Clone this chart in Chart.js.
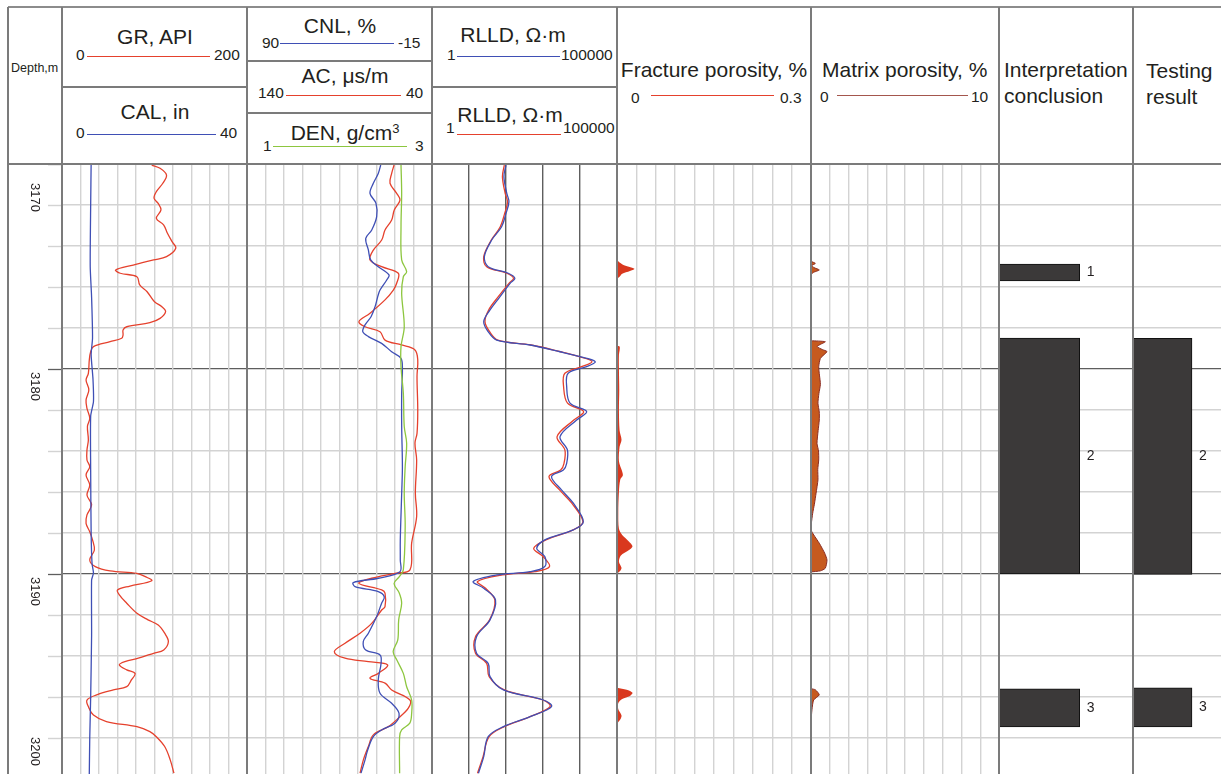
<!DOCTYPE html>
<html>
<head>
<meta charset="utf-8">
<script src="https://cdn.jsdelivr.net/npm/chart.js@4.4.1/dist/chart.umd.min.js"></script>
<style>
body{margin:0;background:#fff;font-family:"Liberation Sans",Arial,sans-serif;color:#231f20}
#page{position:relative;width:1221px;height:774px;overflow:hidden;background:#fff}
.t{position:absolute;font-size:21px;line-height:21px;white-space:nowrap}
.c{text-align:center;width:200px}
.s{position:absolute;font-size:15.5px;line-height:15.5px;white-space:nowrap}
.ln{position:absolute;height:0;border-top:1.5px solid}
.v{position:absolute;top:7px;bottom:0;width:0;border-left:2px solid #7b7b7b;z-index:3}
.h{position:absolute;height:0;border-top:2px solid #7b7b7b;z-index:3}
canvas{position:absolute;top:164px}
</style>
</head>
<body>
<div id="page">
  <!-- header -->
  <div class="h" style="left:8px;top:6px;width:1213px;border-top:2.5px solid #8c8c8c"></div>
  <div class="h" style="left:8px;top:163px;width:1213px"></div>
  <div class="h" style="left:62px;top:86px;width:185px"></div>
  <div class="h" style="left:247px;top:60px;width:185px"></div>
  <div class="h" style="left:247px;top:112px;width:185px"></div>
  <div class="h" style="left:432px;top:86px;width:185px"></div>

  <div class="v" style="left:7px"></div>
  <div class="v" style="left:61px"></div>
  <div class="v" style="left:246px"></div>
  <div class="v" style="left:431px"></div>
  <div class="v" style="left:616px"></div>
  <div class="v" style="left:810px"></div>
  <div class="v" style="left:998px"></div>
  <div class="v" style="left:1132px"></div>

  <div style="position:absolute;left:11px;top:62px;font-size:12.5px;line-height:12.5px">Depth,m</div>

  <div class="t c" style="left:55px;top:26px">GR, API</div>
  <div class="s" style="left:76px;top:47px">0</div>
  <div class="ln" style="left:87px;top:56px;width:123px;border-color:#e5412d"></div>
  <div class="s" style="left:214px;top:47px">200</div>
  <div class="t c" style="left:55px;top:101px">CAL, in</div>
  <div class="s" style="left:76px;top:125px">0</div>
  <div class="ln" style="left:87px;top:134px;width:129px;border-color:#3f4fb5"></div>
  <div class="s" style="left:220px;top:125px">40</div>

  <div class="t c" style="left:240px;top:15px">CNL, %</div>
  <div class="s" style="left:262px;top:35px">90</div>
  <div class="ln" style="left:280px;top:43px;width:114px;border-color:#3f4fb5"></div>
  <div class="s" style="left:398px;top:35px">-15</div>
  <div class="t c" style="left:245px;top:65px">AC, μs/m</div>
  <div class="s" style="left:258px;top:85px">140</div>
  <div class="ln" style="left:286px;top:95px;width:115px;border-color:#e5412d"></div>
  <div class="s" style="left:406px;top:85px">40</div>
  <div class="t c" style="left:245px;top:118px">DEN, g/cm<sup style="font-size:13px;vertical-align:7px">3</sup></div>
  <div class="s" style="left:263px;top:138px">1</div>
  <div class="ln" style="left:273px;top:146px;width:134px;border-color:#8dc63f"></div>
  <div class="s" style="left:415px;top:138px">3</div>

  <div class="t c" style="left:413px;top:24px">RLLD, Ω·m</div>
  <div class="s" style="left:447px;top:47px">1</div>
  <div class="ln" style="left:457px;top:56px;width:103px;border-color:#3f4fb5"></div>
  <div class="s" style="left:561px;top:47px">100000</div>
  <div class="t c" style="left:410px;top:104px">RLLD, Ω·m</div>
  <div class="s" style="left:446px;top:120px">1</div>
  <div class="ln" style="left:457px;top:134px;width:104px;border-color:#e5412d"></div>
  <div class="s" style="left:563px;top:120px">100000</div>

  <div class="t c" style="left:614px;top:59px">Fracture porosity, %</div>
  <div class="s" style="left:631px;top:90px">0</div>
  <div class="ln" style="left:651px;top:95px;width:123px;border-color:#e5412d"></div>
  <div class="s" style="left:780px;top:90px">0.3</div>

  <div class="t" style="left:822px;top:59px">Matrix porosity, %</div>
  <div class="s" style="left:820px;top:89px">0</div>
  <div class="ln" style="left:837px;top:95px;width:131px;border-color:#a4564d"></div>
  <div class="s" style="left:971px;top:89px">10</div>

  <div class="t" style="left:1004px;top:57px;line-height:26px">Interpretation<br>conclusion</div>
  <div class="t" style="left:1146px;top:58px;line-height:26px">Testing<br>result</div>

  <canvas id="cDepth"></canvas>
  <canvas id="cGR"></canvas>
  <canvas id="cCNL"></canvas>
  <canvas id="cRLLD"></canvas>
  <canvas id="cFrac"></canvas>
  <canvas id="cMat"></canvas>
  <canvas id="cInt"></canvas>
  <canvas id="cTest"></canvas>
</div>

<script>
// depth window shown in the picture
const DEPTH_TOP = 3170;
const DEPTH_BOTTOM = 3199.76;
const gridDepths = [3170,3172,3174,3176,3178,3180,3182,3184,3186,3188,3190,3192,3194,3196,3198];
const labelDepths = [3170,3180,3190,3200];

// GR, API
const grDepth = [3170.05,3170.21,3170.54,3170.94,3171.35,3171.67,3171.92,3172.24,3172.65,3172.98,3173.38,3173.79,3174.11,3174.52,3174.68,3174.93,3175.17,3175.33,3175.50,3175.90,3176.23,3176.72,3176.96,3177.20,3177.53,3177.74,3177.94,3178.10,3178.34,3178.50,3178.67,3178.91,3179.16,3179.56,3180.21,3180.54,3181.02,3181.51,3181.92,3182.40,3182.81,3183.46,3183.95,3184.44,3184.77,3185.17,3185.66,3186.15,3186.63,3187.12,3187.53,3187.94,3188.34,3188.83,3189.32,3189.64,3189.85,3189.97,3190.13,3190.33,3190.59,3190.78,3191.02,3191.43,3191.92,3192.24,3192.49,3192.89,3193.30,3193.71,3193.87,3194.11,3194.28,3194.44,3194.68,3194.85,3195.17,3195.50,3195.66,3195.90,3196.15,3196.47,3196.88,3197.20,3197.45,3197.69,3197.94,3198.42,3199.07,3199.72];
const grVal = [97,106,113,109,102,99.5,104,107,102,110,114,119,123,113,99,77,58,63,81,84,92,100,108,112,106,95,70,66,66,64.5,52,34,31,29.5,28.5,26,29,26,27,30,27.5,28.5,27,27,30,26,30,27,32,27,26,30,33,35,30,36,52,81,90,97,73.5,60,62,70,81,93,104,111,115,110,99,82.5,68,62,70,79,75,70,55.5,37.5,27,28.5,34,48,81,95,102,111,117,121];

// CAL, in
const calDepth = [3170.0,3172.0,3175.0,3176.5,3178.5,3179.3,3180.5,3181.6,3182.3,3185.0,3188.0,3189.5,3189.95,3190.3,3193.0,3196.0,3198.0,3199.8];
const calVal = [6.3,6.2,6.1,6.4,6.6,6.3,6.7,6.8,6.2,6.2,6.3,6.5,6.8,6.4,6.4,6.2,6.0,5.9];

// CNL, %
const cnlDepth = [3170.05,3170.46,3170.94,3171.43,3171.92,3172.57,3173.22,3173.63,3174.20,3174.68,3175.01,3175.41,3175.66,3176.15,3176.47,3176.96,3177.45,3177.85,3178.18,3178.42,3178.75,3179.16,3179.48,3180.05,3181.19,3182.81,3184.77,3186.06,3188.34,3189.32,3189.89,3190.21,3190.42,3190.62,3190.86,3191.11,3191.43,3192.08,3192.89,3193.30,3193.71,3193.95,3194.36,3195.17,3195.82,3196.31,3196.80,3197.28,3197.61,3197.94,3198.59,3199.07,3199.72];
const cnlVal = [14.1,15.5,18.3,20.2,16.8,16.4,19.2,22.6,21.1,19.8,15.5,9.4,10.7,14.5,15.8,17.3,19.6,23.0,24.3,21.1,13.6,7.9,2.6,1.8,2.2,2.2,1.8,2.2,3.0,3.0,3.2,15.5,29.7,28.7,15.5,12.1,13.6,16.4,21.1,24.0,22.6,14.5,13.9,15.5,14.5,7.9,3.7,6.0,13.6,18.3,21.5,23.0,25.3];

// AC, us/m
const acDepth = [3170.05,3170.46,3170.94,3171.43,3171.76,3172.24,3172.73,3173.22,3173.71,3174.20,3174.68,3175.01,3175.33,3175.82,3176.15,3176.63,3177.28,3177.69,3177.94,3178.18,3178.59,3178.83,3179.07,3179.56,3180.37,3182.00,3183.14,3183.62,3184.44,3186.06,3187.20,3188.50,3189.80,3189.97,3190.21,3190.46,3190.78,3190.94,3191.59,3191.76,3192.41,3192.89,3193.38,3193.79,3194.11,3194.28,3194.44,3194.85,3195.09,3195.33,3195.66,3196.15,3196.55,3197.04,3197.45,3197.85,3198.42,3199.07,3199.72];
const acVal = [60.5,61.8,62.7,59.1,57.3,60.4,61.8,65.4,67.2,71.7,73.5,67.2,58.2,59.1,60.9,65.4,73.5,79.5,76.2,68.1,65.4,56.4,49.2,47.7,48.1,47.7,48.1,49.2,48.3,49.0,48.3,51.0,51.9,60.0,72.6,79.5,67.2,65.4,65.4,67.2,72.6,78.9,87.0,92.8,87.0,74.4,64.0,69.0,73.5,65.4,61.8,51.9,52.8,58.2,63.6,71.7,74.4,77.1,78.9];

// DEN, g/cm3
const denDepth = [3170.05,3171.43,3173.06,3174.68,3175.25,3175.50,3176.31,3177.94,3178.91,3179.89,3181.19,3182.81,3183.62,3184.77,3186.06,3187.69,3189.80,3190.13,3190.46,3190.94,3191.43,3192.24,3193.22,3193.79,3194.20,3194.85,3195.50,3196.15,3196.80,3197.28,3197.61,3197.94,3199.72];
const denVal = [2.665,2.672,2.665,2.672,2.726,2.69,2.672,2.70,2.665,2.665,2.69,2.70,2.726,2.71,2.70,2.71,2.69,2.647,2.59,2.647,2.672,2.64,2.63,2.58,2.62,2.69,2.726,2.78,2.78,2.76,2.672,2.65,2.65];

// RLLD, ohm.m (blue, top header) and RLLD (red, lower header)
const rllDepth = [3170.05,3170.62,3171.43,3171.84,3172.41,3173.06,3173.71,3174.52,3175.01,3175.33,3175.58,3175.82,3176.47,3177.12,3177.69,3178.18,3178.59,3178.83,3179.16,3179.40,3179.64,3179.89,3180.21,3180.86,3181.67,3182.08,3182.49,3183.30,3183.95,3184.60,3184.93,3185.25,3185.90,3186.55,3187.45,3187.85,3188.34,3188.75,3189.15,3189.64,3189.89,3190.05,3190.37,3190.70,3191.27,3192.24,3193.06,3193.87,3194.36,3195.01,3195.66,3196.15,3196.47,3196.96,3197.45,3197.94,3198.91,3199.72];
const rlld1Val = [100,88,105,120,100,76,41,26,33,115,174,129,69,37,25,33,56,447,2884,10000,25700,15100,4786,4365,5370,15100,8130,2884,4570,4365,3550,1700,3160,6600,12300,6600,1120,676,1120,1120,447,56,13,25,52,37,16,16,33,37,85,1023,1700,447,85,33,25,18];
const rlld2Val = [90,80,95,110,92,70,40,25,30,105,160,120,62,34,27,36,60,480,3000,9500,21000,11000,3900,3600,4600,12500,6800,2400,3900,3700,3000,1450,2800,6000,12000,6500,1200,560,1000,1500,600,80,17,28,50,36,15,15,30,35,90,1000,1550,450,90,35,24,17];

// Fracture porosity, % (null = no fracture interval)
const fracDepth = [3174.70,3174.80,3174.95,3175.05,3175.12,3175.22,3175.35,3175.50,3175.60,3177.0,3178.85,3178.90,3179.10,3179.30,3180.0,3181.0,3182.0,3183.0,3183.45,3183.80,3184.50,3185.00,3185.20,3185.40,3186.0,3187.0,3187.80,3188.10,3188.40,3188.65,3188.85,3189.10,3189.40,3189.70,3189.85,3190.0,3193.0,3195.55,3195.65,3195.80,3195.95,3196.10,3196.30,3196.60,3196.90,3197.10,3197.30];
const fracVal = [0,0.004,0.012,0.022,0.027,0.02,0.008,0.004,0,null,0,0.004,0.004,0.003,0.003,0.0035,0.003,0.004,0.007,0.004,0.003,0.008,0.009,0.005,0.003,0.002,0.003,0.008,0.018,0.024,0.018,0.006,0.003,0.007,0.005,0,null,0,0.015,0.024,0.02,0.008,0.002,0.002,0.007,0.005,0];

// Matrix porosity, %
const matDepth = [3174.75,3174.85,3174.95,3175.05,3175.17,3175.30,3175.42,3177.0,3178.62,3178.67,3178.80,3178.91,3179.05,3179.15,3179.30,3179.48,3179.89,3180.30,3180.75,3181.20,3181.67,3182.10,3182.49,3183.00,3183.63,3184.00,3184.44,3184.90,3185.41,3186.06,3186.60,3187.04,3187.53,3187.85,3188.10,3188.50,3188.99,3189.32,3189.72,3189.85,3189.90,3193.0,3195.60,3195.65,3195.90,3196.15,3196.63,3197.20];
const matVal = [0,0.23,0.05,0.15,0.44,0.1,0,null,0,0.76,0.5,0.32,0.6,0.85,0.7,0.5,0.41,0.45,0.50,0.42,0.37,0.44,0.44,0.38,0.32,0.40,0.41,0.36,0.37,0.27,0.18,0.09,0.02,0,0.15,0.44,0.73,0.85,0.76,0.5,0,null,0,0.23,0.44,0.14,0.05,0];

// Interpretation conclusion and testing result intervals
const intTop = [3174.88,3178.49,3195.61];
const intBase = [3175.71,3190.0,3197.46];
const intLabels = ['1','2','3'];
const testTop = [3178.5,3195.56];
const testBase = [3190.02,3197.46];
const testLabels = ['2','3'];

const LIGHT = '#d3d3d3';
const DARK = '#5e5e5e';
const RED = '#e5412d';
const BLUE = '#3f4fb5';
const GREEN = '#8dc63f';
const TRACK_H = 610;

function pts(depths, vals) {
    return depths.map((d, i) => ({x: vals[i], y: d}));
}

function depthAxis() {
    return {
        type: 'linear', reverse: true, min: DEPTH_TOP, max: DEPTH_BOTTOM,
        afterBuildTicks: s => { s.ticks = gridDepths.map(v => ({value: v})); },
        ticks: {display: false},
        grid: {
            drawTicks: false,
            color: c => (c.tick && c.tick.value % 10 === 0) ? DARK : LIGHT,
            lineWidth: c => (c.tick && c.tick.value % 10 === 0) ? 1.3 : 1.4
        },
        border: {display: false}
    };
}

function gridAxis(n, color, width) {
    const vals = [];
    for (let i = 0; i <= n; i++) vals.push(i);
    return {
        type: 'linear', axis: 'x', position: 'bottom', min: 0, max: n,
        afterBuildTicks: s => { s.ticks = vals.map(v => ({value: v})); },
        ticks: {display: false},
        grid: {drawTicks: false, color: color, lineWidth: width},
        border: {display: false}
    };
}

function hidden(type, min, max, reverse) {
    return {type: type, axis: 'x', position: 'bottom', min: min, max: max, reverse: !!reverse, display: false};
}

function curve(data, axis, color, extra) {
    return Object.assign({
        data: data, xAxisID: axis, yAxisID: 'y',
        borderColor: color, borderWidth: 1.3, pointRadius: 0,
        tension: 0.35, fill: false
    }, extra || {});
}

function track(id, left, width, type, indexAxis, datasets, scales, plugins) {
    const cv = document.getElementById(id);
    cv.width = width;
    cv.height = TRACK_H;
    cv.style.left = left + 'px';
    cv.style.width = width + 'px';
    cv.style.height = TRACK_H + 'px';
    return new Chart(cv, {
        type: type,
        data: {datasets: datasets},
        options: {
            indexAxis: indexAxis,
            responsive: false,
            animation: false,
            events: [],
            layout: {padding: 0},
            plugins: {legend: {display: false}, tooltip: {enabled: false}},
            scales: Object.assign({y: depthAxis()}, scales)
        },
        plugins: plugins || []
    });
}

// depth column: tick marks and rotated depth numbers
const depthMarks = {
    id: 'depthMarks',
    afterDraw(chart) {
        const {ctx, chartArea} = chart;
        const y = chart.scales.y;
        ctx.save();
        gridDepths.forEach(d => {
            const py = Math.round(y.getPixelForValue(d)) + 0.5;
            const major = d % 10 === 0;
            ctx.strokeStyle = major ? DARK : LIGHT;
            ctx.lineWidth = major ? 1.3 : 1.4;
            ctx.beginPath();
            ctx.moveTo(chartArea.right - 14, py);
            ctx.lineTo(chartArea.right, py);
            ctx.stroke();
        });
        ctx.font = '13px "Liberation Sans", Arial, sans-serif';
        ctx.fillStyle = '#231f20';
        ctx.textBaseline = 'middle';
        ctx.textAlign = 'left';
        labelDepths.forEach(d => {
            const txt = String(d);
            const w = ctx.measureText(txt).width;
            let start = y.getPixelForValue(d) + 3;
            start = Math.max(start, chartArea.top + 19);
            start = Math.min(start, chartArea.bottom - w - 8);
            ctx.save();
            ctx.translate(26.5, start);
            ctx.rotate(Math.PI / 2);
            ctx.fillText(txt, 0, 0);
            ctx.restore();
        });
        ctx.restore();
    }
};

function barLabels(labels) {
    return {
        id: 'barLabels',
        afterDatasetsDraw(chart) {
            const ctx = chart.ctx;
            ctx.save();
            ctx.font = '14px "Liberation Sans", Arial, sans-serif';
            ctx.fillStyle = '#231f20';
            ctx.textBaseline = 'middle';
            chart.getDatasetMeta(0).data.forEach((bar, i) => {
                const p = bar.getProps(['x', 'y', 'base', 'width'], true);
                ctx.fillText(labels[i], p.x + p.width / 2 + 7, (p.y + p.base) / 2);
            });
            ctx.restore();
        }
    };
}

// depth
track('cDepth', 8, 54, 'line', 'y', [], {y: Object.assign(depthAxis(), {grid: {display: false}})}, [depthMarks]);

// GR + CAL
track('cGR', 62, 185, 'line', 'y', [
    curve(pts(calDepth, calVal), 'xCAL', BLUE, {tension: 0.2}),
    curve(pts(grDepth, grVal), 'xGR', RED)
], {
    xg: gridAxis(10, LIGHT, 1.4),
    xGR: hidden('linear', 0, 200),
    xCAL: hidden('linear', 0, 40)
});

// CNL + AC + DEN
track('cCNL', 247, 185, 'line', 'y', [
    curve(pts(denDepth, denVal), 'xDEN', GREEN),
    curve(pts(cnlDepth, cnlVal), 'xCNL', BLUE),
    curve(pts(acDepth, acVal), 'xAC', RED)
], {
    xg: gridAxis(10, LIGHT, 1.4),
    xCNL: hidden('linear', -15, 90, true),
    xAC: hidden('linear', 40, 140, true),
    xDEN: hidden('linear', 1, 3)
});

// RLLD (log)
track('cRLLD', 432, 185, 'line', 'y', [
    curve(pts(rllDepth, rlld1Val), 'xR', BLUE),
    curve(pts(rllDepth, rlld2Val), 'xR', RED)
], {
    xg: gridAxis(5, DARK, 1.4),
    xR: hidden('logarithmic', 1, 100000)
});

// fracture porosity
track('cFrac', 617, 194, 'line', 'y', [
    curve(pts(fracDepth, fracVal), 'xF', 'rgba(0,0,0,0)', {
        borderWidth: 0, fill: 'origin', backgroundColor: '#d9381e', tension: 0.3
    })
], {
    xg: gridAxis(10, LIGHT, 1.4),
    xF: hidden('linear', 0, 0.3)
});

// matrix porosity
track('cMat', 811, 188, 'line', 'y', [
    curve(pts(matDepth, matVal), 'xM', '#8a2c24', {
        borderWidth: 1, fill: 'origin', backgroundColor: '#c65a1f', tension: 0.2
    })
], {
    xg: gridAxis(10, LIGHT, 1.4),
    xM: hidden('linear', 0, 10)
});

// interpretation conclusion
track('cInt', 999, 134, 'bar', 'x', [{
    data: intTop.map((t, i) => ({x: 0.3, y: [t, intBase[i]]})),
    backgroundColor: '#3b3939', borderColor: '#111', borderWidth: 1,
    borderSkipped: false, barThickness: 81
}], {
    x: {type: 'linear', min: 0, max: 1, offset: false, display: false}
}, [barLabels(intLabels)]);

// testing result
track('cTest', 1133, 88, 'bar', 'x', [{
    data: testTop.map((t, i) => ({x: 0.335, y: [t, testBase[i]]})),
    backgroundColor: '#3b3939', borderColor: '#111', borderWidth: 1,
    borderSkipped: false, barThickness: 59
}], {
    x: {type: 'linear', min: 0, max: 1, offset: false, display: false}
}, [barLabels(testLabels)]);
</script>
</body>
</html>
